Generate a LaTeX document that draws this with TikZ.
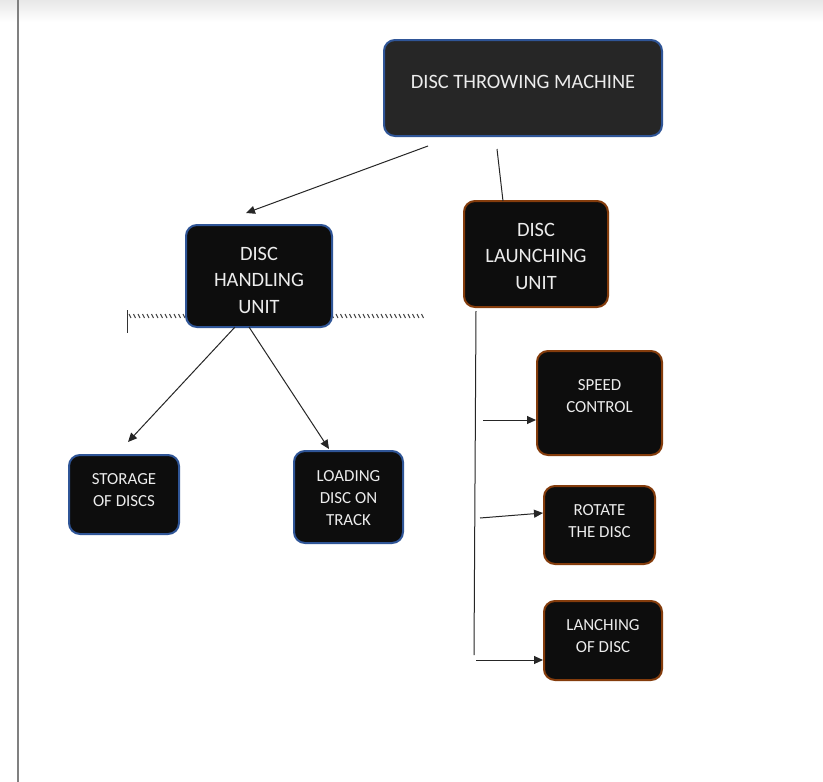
\documentclass[tikz,border=0pt]{standalone}
\usepackage{fontspec}
\setmainfont{Carlito}
\usetikzlibrary{arrows.meta}
\definecolor{bluebd}{RGB}{47,85,151}
\definecolor{brownbd}{RGB}{132,60,12}
\definecolor{boxfill}{RGB}{13,13,13}
\definecolor{mainfill}{RGB}{38,38,38}
\definecolor{txt}{RGB}{236,236,236}
\tikzset{
  box/.style={draw, line width=2pt, rounded corners=11pt, fill=boxfill, text=txt, align=center, inner sep=0pt},
  bluebox/.style={box, draw=bluebd},
  brownbox/.style={box, draw=brownbd},
  lbl/.style={text=txt, align=center, inner sep=0pt},
  bigtxt/.style={lbl, font=\fontsize{20.4}{26.5}\selectfont},
  smalltxt/.style={lbl, font=\fontsize{16.9}{22}\selectfont},
  conn/.style={line width=1pt, draw=black!85},
  arr/.style={conn, -{Triangle[length=9pt,width=8pt]}},
}
\begin{document}
\begin{tikzpicture}[x=1pt,y=-1pt]
\useasboundingbox (0,0) rectangle (823,782);
\fill[white] (0,0) rectangle (823,782);
\shade[top color=black!9, bottom color=white] (0,0) rectangle (823,22);
\draw[line width=2pt, draw=black!50] (18,0) -- (18,782);

% hatched line
\draw[line width=1pt, black!80] (127,310) -- (127,333);
\foreach \i in {130,134.5,...,424} \draw[line width=1pt, black!75] (\i-1,314) -- (\i+1,318);

% boxes
\node[bluebox, fill=mainfill, minimum width=278pt, minimum height=96pt] (main) at (523,88) {};
\node[bluebox, minimum width=146pt, minimum height=102pt] (handling) at (259,276) {};
\node[brownbox, minimum width=144pt, minimum height=106pt] (launching) at (536,254) {};
\node[brownbox, minimum width=125pt, minimum height=104pt] (speed) at (599.5,403) {};
\node[brownbox, minimum width=111pt, minimum height=78pt] (rotate) at (599.5,525) {};
\node[brownbox, minimum width=118pt, minimum height=79pt] (lanch) at (603,640.5) {};
\node[bluebox, minimum width=110pt, minimum height=79pt] (storage) at (124,494.5) {};
\node[bluebox, minimum width=109pt, minimum height=92pt] (loading) at (348.5,497) {};

% texts
\node[bigtxt] (maint) at (523,82) {DISC THROWING MACHINE};
\node[bigtxt] (handlingt) at (259,280) {DISC\\HANDLING\\UNIT};
\node[bigtxt] (launchingt) at (536,256) {DISC\\LAUNCHING\\UNIT};
\node[smalltxt] (speedt) at (599.5,396) {SPEED\\CONTROL};
\node[smalltxt] (rotatet) at (599.5,521) {ROTATE\\THE DISC};
\node[smalltxt] (lancht) at (603,636) {LANCHING\\OF DISC};
\node[smalltxt] (storaget) at (124,490) {STORAGE\\OF DISCS};
\node[smalltxt] (loadingt) at (348.5,498) {LOADING\\DISC ON\\TRACK};

% connector endpoints
\coordinate (m1) at (428,146);
\coordinate (h1) at (246,213);
\coordinate (m2) at (497,149);
\coordinate (l1) at (503,201);
\coordinate (hs) at (235,327);
\coordinate (st) at (128,442);
\coordinate (hl) at (249,327);
\coordinate (lo) at (329,449);
\coordinate (vt) at (476,311);
\coordinate (vb) at (474,655);
\coordinate (s0) at (483,420);
\coordinate (r0) at (480,518);
\coordinate (c0) at (476,660);

\draw[arr] (m1) -- (h1);
\draw[conn] (m2) -- (l1);
\draw[arr] (hs) -- (st);
\draw[arr] (hl) -- (lo);
\draw[conn] (vt) -- (vb);
\draw[arr] (s0) -- (speed.west |- s0);
\draw[arr] (r0) -- (rotate.west |- 0,513);
\draw[arr] (c0) -- (lanch.west |- c0);
\end{tikzpicture}
\end{document}
